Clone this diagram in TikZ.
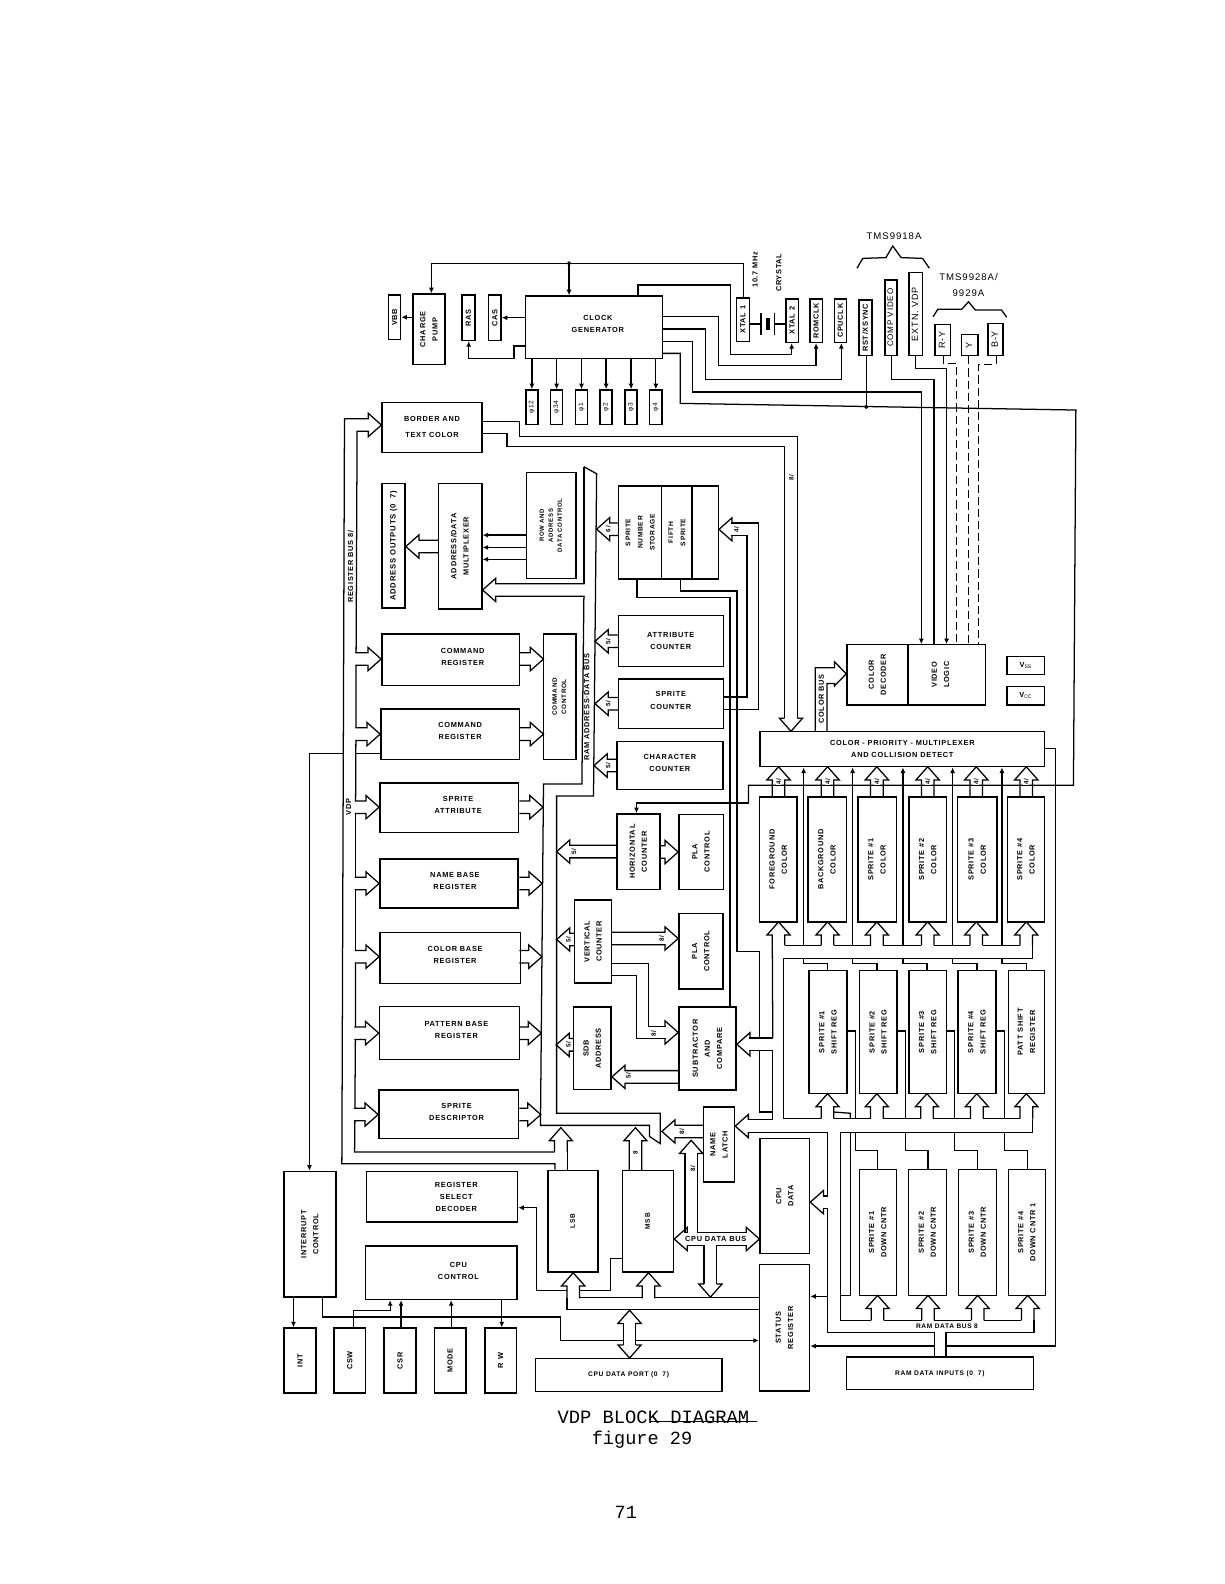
\documentclass[tikz,border=0pt]{standalone}
\usepackage{fontspec}
\setmainfont{Liberation Sans}[LetterSpace=10]
\newfontfamily\typew{Liberation Mono}
\usetikzlibrary{arrows.meta}
\newcommand\fa{\fontsize{7.3}{12}\selectfont\bfseries}
\newcommand\fb{\fontsize{9}{12}\selectfont}
\newcommand\rt[1]{\rotatebox{90}{\begin{tabular}{@{}c@{}}#1\end{tabular}}}
\newcommand\hz[1]{\begin{tabular}{@{}c@{}}#1\end{tabular}}
\tikzset{
 bx/.style={draw=black,line width=1.4pt,inner sep=0pt,fill=none},
 txt/.style={inner sep=0pt,font=\fa},
 w/.style={line width=1.25pt,draw=black,line join=miter},
 wa/.style={w,-{Latex[length=5.5pt,width=5pt]}},
 wd/.style={line width=1.1pt,draw=black,dash pattern=on 8pt off 4pt},
 lab/.style={inner sep=0pt,font=\fontsize{6.2}{7}\selectfont\bfseries},
}
% box: [text opts]{name}{x1}{y1}{x2}{y2}{text}
\newcommand\bx[7][]{%
 \node[bx,minimum width={((#5)-(#3))*1pt},minimum height={((#6)-(#4))*1pt}] (#2) at ({((#3)+(#5))/2},{((#4)+(#6))/2}) {};
 \node[txt,#1] (#2t) at (#2) {#7};}
\newcount\labn
\newcommand\lb[5][lab]{\global\advance\labn by 1 \node[#1,rotate=#4] (lab\the\labn) at (#2,#3) {#5};}
% block arrow: [opts]{tip}{angle}{length}
\def\bah{13}\def\bab{11.5}\def\bas{6.2}
\newcommand\barrow[4][]{\draw[w,#1,shift={(#2)},rotate=#3] ({-(#4)},\bas)--(-\bah,\bas)--(-\bah,\bab)--(0,0)--(-\bah,-\bab)--(-\bah,-\bas)--({-(#4)},-\bas);}
\begin{document}
\begin{tikzpicture}[x=1pt,y=-1pt]
\useasboundingbox (0,0) rectangle (1212,1568);
% ---- top row
\bx{vbb}{384.7}{292}{396.5}{336}{\rt{VBB}}
\bx{cp}{408.8}{291}{440.6}{361}{\rt{CHARGE\\PUMP}}
\bx{ras}{457.4}{292}{470}{337}{\rt{RAS}}
\bx{cas}{483.8}{292}{496}{337}{\rt{CAS}}
\bx[xshift=4pt,yshift=3pt]{clock}{520}{293}{655.6}{355}{\hz{CLOCK\\GENERATOR}}
\bx{xa}{729}{295}{742}{338}{\rt{XTAL 1}}
\bx{xb}{778}{296}{790.5}{339}{\rt{XTAL 2}}
\bx{rom}{802}{296}{814}{339}{\rt{ROMCLK}}
\bx{cpuclk}{826}{296}{838}{339}{\rt{CPUCLK}}
\bx{rst}{850.5}{297}{863}{352}{\rt{RST/XSYNC}}
\bx[font=\fontsize{8}{10}\selectfont]{comp}{876}{277}{888}{352}{\rt{COMP VIDEO}}
\bx[font=\fb]{extn}{900}{270}{913}{352}{\rt{EXTN. VDP}}
\bx[font=\fb]{ry}{925.5}{321}{941}{352}{\rt{R-Y}}
\bx[font=\fb]{yy}{952}{331}{968}{352}{\rt{Y}}
\bx[font=\fb]{by}{978}{320}{993}{352}{\rt{B-Y}}
\foreach \nn/\xc/\pl in {pa/526.5/φ12,pb/551/φ34,pc/575.6/φ1,pd/600/φ2,pe/624.7/φ3,pf/649.2/φ4}{
 \bx[font=\fontsize{6.5}{8}\selectfont]{\nn}{\xc-6}{386}{\xc+6}{420}{\rt{\pl}}
 \draw[wa] (clock.south -| \nn.north) -- (\nn.north);
}
\lb[txt]{747.4}{267}{90}{10.7 MHz}
\lb[txt]{771}{270}{90}{CRYSTAL}
\node[txt,font=\fontsize{9.5}{11}\selectfont] (t18) at (885,234) {TMS9918A};
\node[txt,font=\fontsize{9.5}{11}\selectfont] (t28a) at (958.7,274.6) {TMS9928A/};
\node[txt,font=\fontsize{9.5}{11}\selectfont] (t29) at (958.7,290.4) {9929A};
\draw[w] (848.3,265.6)--(854,255.8)--(877,255)--(883.7,243.5)--(892,255)--(913.3,255.8)--(920,265.6);
\draw[w] (923.7,313.5)--(928.3,306.2)--(952,306.2)--(958.7,298.7)--(965.5,306.9)--(991.4,306.9)--(996.5,314);
% top wires
\draw[wa] (xa.north -| 736,0) -- (736,260.7) -- (427,260.7) -- (cp.north -| 427,0);
\draw[wa] (563.3,260.7) -- (clock.north -| 563.3,0);
\draw[w,fill=black] (563.3,260.7) circle (1.3pt);
\draw[wa] (clock.north -| 631.5,0) -- (631.5,282) -- (723.3,282) -- (723.3,350.8) -- (783.7,350.8) -- (xb.south -| 783.7,0);
\draw[wa] (clock.east |- 0,313.5) -- (711,313.5) -- (711,362) -- (807.8,362) -- (rom.south -| 807.8,0);
\draw[wa] (clock.east |- 0,325.7) -- (698.3,325.7) -- (698.3,375.5) -- (832.8,375.5) -- (cpuclk.south -| 832.8,0);
\draw[wa] (cp.west |- 0,314) -- (vbb.east |- 0,314);
\draw[wa] (clock.west |- 0,314.5) -- (cas.east |- 0,314.5);
\draw[wa] (clock.west |- 0,342.5) -- (508.8,342.5) -- (508.8,354.8) -- (464,354.8) -- (ras.south -| 464,0);
% crystal
\draw[w] (xa.east |- 0,320.8) -- (753.2,320.8);
\draw[w] (753.2,309.6) -- (753.2,331.7);
\draw[w] (766.4,309.6) -- (766.4,331.7);
\draw[w] (766.4,320.8) -- (xb.west |- 0,320.8);
\fill (758.5,315.2) rectangle (762.4,326.8);
% video
\bx{cdec}{838.4}{637.7}{898.8}{698}{\rt{COLOR\\DECODER}}
\bx[xshift=-6pt]{vlog}{898.8}{637.7}{975.4}{698}{\rt{VIDEO\\LOGIC}}
\bx{vss}{996.8}{649.6}{1034}{667.7}{V$_{\mathrm{SS}}$}
\bx{vcc}{996.8}{679.3}{1034}{698}{V$_{\mathrm{CC}}$}
\draw[wa] (clock.east |- 0,338) -- (685.6,338) -- (685.6,388) -- (912,388) -- (912,637.7);
\draw[w] (comp.south -| 882.5,0) -- (882.5,376) -- (924.5,376) -- (924.5,637.7);
\draw[wa] (extn.south -| 906.5,0) -- (906.5,364.6) -- (937,364.6) -- (937,637.7);
\draw[wd] (ry.south -| 933.7,0) -- (933.7,359.7) -- (947,359.7) -- (947,637.7);
\draw[wd] (yy.south -| 959,0) -- (959,637.7);
\draw[wd] (by.south -| 986,0) -- (986,361) -- (969,361) -- (969,637.7);
\draw[w] (rst.south -| 857.4,0) -- (857.4,402.8);
\draw[w,fill=black] (857.4,402.8) circle (1.3pt);
\draw[w] (clock.east |- 0,349.8) -- (673.3,349.8) -- (673.3,399.3) -- (1065,405.9) -- (1062.6,777.3) -- (741,777.3) -- (741,795);
% color priority
\bx{prio}{752.5}{723.9}{1034}{759}{\hz{COLOR - PRIORITY - MULTIPLEXER\\AND COLLISION DETECT}}
\draw[w] (807,723.9)--(807,661)--(826,661)--(826,655)--(cdec.west |- 0,667)--(826,679)--(826,676.6)--(818.6,676.6)--(818.6,723.9);
\lb[txt]{813}{692}{90}{COLOR BUS}
% border
\bx{border}{378.3}{398.3}{477}{448}{\hz{BORDER AND\\[4pt]TEXT COLOR}}
\draw[w] (border.east |- 0,417) -- (514,417) -- (514,432.3) -- (789.2,432.3) -- (789.2,711);
\draw[w] (border.east |- 0,429) -- (502,429) -- (502,442) -- (776.8,442) -- (776.8,711);
\barrow{783,723.9}{-90}{13}
\lb{783.5}{473}{90}{8/}
\barrow{border.west |- 0,420.7}{0}{13}
\draw[w] (365.3,426.9) -- (353.5,426.9) -- (352.5,646.2);
\lb[txt]{347}{561}{90}{REGISTER BUS 8/}
\lb[txt]{345}{799}{90}{VDP}
% address
\bx[font=\fontsize{7.6}{10}\selectfont\bfseries]{aout}{378.3}{478.5}{401}{602}{\rt{ADDRESS OUTPUTS (0 \,\,7)}}
\bx{amux}{433.8}{478.5}{477}{603}{\rt{ADDRESS/DATA\\MULTIPLEXER}}
\bx[font=\fontsize{6}{9}\selectfont\bfseries]{row}{521}{467.6}{570}{572.6}{\rt{ROW AND\\ADDRESS\\DATA CONTROL}}
\draw[wa] (row.west |- 0,529.7) -- (amux.east |- 0,529.7);
\draw[wa] (row.west |- 0,541.9) -- (amux.east |- 0,541.9);
\draw[wa] (row.west |- 0,553.7) -- (amux.east |- 0,553.7);
\barrow{aout.east |- 0,541}{180}{32.8}
\barrow{amux.east |- 0,584}{180}{101}
% registers
\bx[xshift=12pt,yshift=3pt]{ca}{378}{627.7}{514}{678.3}{\hz{COMMAND\\REGISTER}}
\bx[xshift=10pt,yshift=3pt]{cb}{377}{702}{514}{752}{\hz{COMMAND\\REGISTER}}
\bx[xshift=9pt,yshift=3pt]{sa}{376}{775}{513}{824}{\hz{SPRITE\\ATTRIBUTE}}
\bx[xshift=6pt,yshift=3pt]{nb}{376}{850.5}{512.6}{899}{\hz{NAME BASE\\REGISTER}}
\bx[xshift=5pt,yshift=3pt]{cl}{376}{923}{515}{973.5}{\hz{COLOR BASE\\REGISTER}}
\bx[xshift=7pt,yshift=3pt]{pb}{375.6}{996.5}{514}{1048.5}{\hz{PATTERN BASE\\REGISTER}}
\bx[xshift=8pt,yshift=2pt]{sd}{375}{1079}{513}{1127}{\hz{SPRITE\\DESCRIPTOR}}
\bx[font=\fontsize{6.3}{9}\selectfont\bfseries]{cc}{538}{627.7}{570}{752}{\rt{COMMAND\\CONTROL}}
\foreach \nn/\yc/\lx/\tx in {ca/652.4/25.5/538,cb/726.7/24.5/538,sa/799/24/537.5,nb/874.5/24/536.7,cl/947/24/536.5,pb/1022.7/24/535.8,sd/1103.3/24/535.3}{
 \barrow{\nn.west |- 0,\yc}{0}{\lx}
 \barrow{\tx,\yc}{0}{\tx-514}
}
\draw[w] (352.5,658.6)--(352.3,720.5);
\draw[w] (352.3,732.9)--(352,792.8);
\draw[w] (352,805.2)--(352,868.3);
\draw[w] (352,880.7)--(352,940.8);
\draw[w] (352,953.2)--(351.8,1016.5);
\draw[w] (351.8,1028.9)--(351.3,1097.1);
\draw[w] (351.3,1109.5)--(351,1140.4)--(549,1140.4);
\draw[w] (cb.west |- 0,746) -- (352.3,746);
% RAM bus
\draw[w] (578,462)--(590.6,469)--(587.5,788)--(551,788)--(551,1102)--(653.5,1102)--(653.5,1132)--(643,1125)--(643,1114)--(535,1114)--(538,776)--(576,776)--(578,590.2);
\draw[w] (578,462)--(578,577.8);
\lb[txt]{581}{700}{90}{RAM ADDRESS·DATA BUS}
% counters
\bx[font=\fontsize{6.6}{12}\selectfont\bfseries]{sns}{612.4}{481}{655}{573}{\rt{SPRITE\\NUMBER\\STORAGE}}
\bx[font=\fontsize{6.6}{12}\selectfont\bfseries]{fif}{655}{481}{685}{573}{\rt{FIFTH\\SPRITE}}
\bx{fifb}{685}{481}{711}{573}{}
\bx{ac}{612}{609}{716}{659.5}{\hz{ATTRIBUTE\\COUNTER}}
\bx[yshift=3pt]{sc}{612}{672}{716}{721}{\hz{SPRITE\\COUNTER}}
\bx[yshift=2pt]{chc}{610.6}{733.8}{715.5}{781.5}{\hz{CHARACTER\\COUNTER}}
\bx{hc}{610.6}{805.6}{653.5}{880.5}{\rt{HORIZONTAL\\COUNTER}}
\bx{pla}{672}{806}{716}{880.5}{\rt{PLA\\CONTROL}}
\bx{vc}{568.7}{891}{605.6}{973}{\rt{VERTICAL\\COUNTER}}
\bx{plb}{672}{904.5}{715.5}{979}{\rt{PLA\\CONTROL}}
\bx{sdb}{567.7}{997}{605}{1078.5}{\rt{SDB\\ADDRESS}}
\bx{sub}{672}{997}{728.7}{1079}{\rt{SUBTRACTOR\\AND\\COMPARE}}
\barrow{590.6,523.8}{180}{22}\lb{602}{523.8}{90}{6/}
\barrow{589,634.8}{180}{23}\lb{602}{634.8}{90}{5/}
\barrow{589,696.6}{180}{23}\lb{602}{696.6}{90}{5/}
\barrow{588,757.8}{180}{22.6}\lb{602}{757.8}{90}{5/}
\barrow{551,843}{180}{59.6}\lb{568}{843}{90}{5/}
\barrow{551,930}{180}{17.7}\lb{562.7}{930}{90}{5/}
\barrow{550.5,1034.3}{180}{17.2}\lb{562.7}{1034.3}{90}{5/}
\barrow{sdb.east |- 0,1066}{180}{67}\lb{622}{1065}{90}{5/}
\barrow{pla.west |- 0,843.4}{0}{18.5}
\barrow{plb.west |- 0,929}{0}{66.4}\lb{655}{929}{90}{8/}
\barrow{sub.west |- 0,1022}{0}{13}\lb{647}{1023}{90}{8/}
\draw[w] (vc.east |- 0,953.7) -- (642,953.7) -- (642,1015.8) -- (659,1015.8);
\draw[w] (vc.east |- 0,965.4) -- (630,965.4) -- (630,1028.2) -- (659,1028.2);
\barrow{fifb.east |- 0,524}{180}{13}\lb{729}{524}{90}{4/}
\draw[w] (724,517.8) -- (750.6,517.8) -- (750.6,702) -- (sc.east |- 0,702);
\draw[w] (724,530.2) -- (739.4,530.2) -- (739.4,690) -- (sc.east |- 0,690);
\draw[w] (630.6,573) -- (630.6,591.7) -- (722.5,591.7) -- (sub.north -| 722.5,0);
\draw[w] (673.3,573) -- (673.3,585) -- (729.5,585) -- (729.5,942) -- (752,942) -- (752,1027.5);
\draw[wa] (741,795) -- (630,795) -- (hc.north -| 630,0);
\barrow{sub.east |- 0,1033.7}{180}{13}
\draw[w] (741.7,1027.5) -- (765,1027.5);
\draw[w] (741.7,1039.9) -- (765,1039.9) -- (765,1108) -- (740,1108);
\draw[w] (752,1039.9) -- (752,1100.8) -- (765,1100.8);
% colour registers
\bx{fg}{751.9}{789}{788.9}{912.6}{\rt{FOREGROUND\\COLOR}}
\bx{bg}{799.8}{789}{837.7}{912.6}{\rt{BACKGROUND\\COLOR}}
\bx{sca}{849.3}{789}{887.2}{912.6}{\rt{SPRITE \#1\\COLOR}}
\bx{scb}{900}{789}{936.8}{912.6}{\rt{SPRITE \#2\\COLOR}}
\bx{scc}{947.9}{789}{986.9}{912.6}{\rt{SPRITE \#3\\COLOR}}
\bx{scd}{997.4}{789}{1034}{912.6}{\rt{SPRITE \#4\\COLOR}}
\foreach \nn/\xc in {fg/770.7,bg/819.2,sca/868,scb/918.3,scc/966.4,scd/1015.9}{
 \barrow{\xc,759}{90}{30}
 \barrow{\xc,912.6}{90}{23.1}
 \node[lab,rotate=90,fill=white,inner sep=0.5pt] (l\nn) at (\xc,773.5) {4/};
}
\foreach \xc in {795.5,844,893.8,943,991.8}{
 \draw[wa] (\xc,935.7) -- (prio.south -| \xc,0);
}
\draw[w] (776.9,935.7)--(813,935.7);
\draw[w] (825.4,935.7)--(861.8,935.7);
\draw[w] (874.2,935.7)--(912.1,935.7);
\draw[w] (924.5,935.7)--(960.2,935.7);
\draw[w] (972.6,935.7)--(1009.7,935.7);
\draw[w] (764.5,935.7)--(765,1027.5);
\draw[w] (1022.1,935.7)--(1022.1,948.9)--(775.7,948.9)--(775.7,1107.4)--(813,1107.4);
% shift registers
\bx{sra}{801}{960.5}{838.4}{1082.6}{\rt{SPRITE \#1\\SHIFT REG}}
\bx{srb}{850.6}{960.5}{888}{1082.6}{\rt{SPRITE \#2\\SHIFT REG}}
\bx{src}{900}{960.5}{936.8}{1082.6}{\rt{SPRITE \#3\\SHIFT REG}}
\bx{srd}{948.3}{960.5}{986}{1082.6}{\rt{SPRITE \#4\\SHIFT REG}}
\bx{sre}{998.4}{960.5}{1034}{1082.6}{\rt{PATT SHIFT\\REGISTER}}
\foreach \nn/\xc/\xv in {sra/819.2/795.5,srb/868/844,src/917.6/893.8,srd/967/943,sre/1016/991.8}{
 \barrow{\xc,1082.6}{90}{24.8}
 \draw[w] (\xv,948.9) -- (\xv,953.9) -- (\xc,953.9) -- (\nn.north -| \xc,0);
}
\draw[w] (825.4,1107.4)--(861.8,1107.4);
\draw[w] (874.2,1107.4)--(911.4,1107.4);
\draw[w] (923.8,1107.4)--(960.8,1107.4);
\draw[w] (973.2,1107.4)--(1009.8,1107.4);
\draw[w] (825.4,1100.8)--(841.7,1102)--(841.7,1107.4);
\draw[w] (1022.2,1107.4)--(1022.2,1121.3)--(831.8,1121.3)--(831.8,1307)--(862.4,1307);
% down counters
\bx{dca}{850.6}{1157.6}{887.2}{1282.3}{\rt{SPRITE \#1\\DOWN CNTR}}
\bx{dcb}{899.4}{1157.6}{936.7}{1282.3}{\rt{SPRITE \#2\\DOWN CNTR}}
\bx{dcc}{948.9}{1157.6}{986.2}{1282.3}{\rt{SPRITE \#3\\DOWN CNTR}}
\bx{dcd}{998.4}{1157.6}{1034.8}{1282.3}{\rt{SPRITE \#4\\DOWN CNTR 1}}
\foreach \mm/\nn/\xv/\xc in {sra/dca/846.6/868.7,srb/dcb/896.1/918.6,src/dcc/945/967.8,srd/dcd/994.5/1017.3}{
 \draw[w] (\mm.east |- 0,1020.5) -- (\xv,1020.5) -- (\xv,1107.4);
 \draw[w] (\xv,1121.3) -- (\xv,1138.7) -- (\xc,1138.7) -- (\nn.north -| \xc,0);
 \barrow{\xc,1282.3}{90}{24.7}
}
\draw[w] (875,1307)--(912.4,1307);
\draw[w] (924.8,1307)--(961.6,1307);
\draw[w] (974,1307)--(1011.1,1307);
\draw[w] (841.7,1121.3)--(841.7,1282.3)--(831.8,1282.3);
\node[txt,font=\fontsize{6.5}{8}\selectfont\bfseries] (rdb) at (937.4,1312.9) {RAM DATA BUS 8};
% cpu data / status
\bx{cpud}{752.5}{1127.2}{801.4}{1241}{\rt{CPU\\DATA}}
\bx{stat}{751.9}{1251.6}{801.4}{1377}{\rt{STATUS\\REGISTER}}
\bx[font=\fontsize{6.6}{9}\selectfont\bfseries]{rami}{837.7}{1343.4}{1023}{1375.7}{RAM DATA INPUTS (0 \,\,7)}
\barrow{cpud.east |- 0,1190}{180}{13}
\draw[w] (814.4,1183.8)--(819.2,1183.8)--(819.2,1121.3)--(740,1121.3);
\draw[w] (814.4,1196.2)--(819.2,1196.2)--(819.2,1319.3)--(925.2,1319.3)--(925.2,1343.4);
\draw[w] (936.4,1343.4)--(936.4,1319.3)--(1023.5,1319.3)--(1023.5,1307);
\draw[wa] (819.2,1283.3)--(stat.east |- 0,1283.3);
\draw[w] (prio.east |- 0,741)--(1044.7,741)--(1044.7,1332.5)--(936.4,1332.5);
\draw[wa] (925.2,1332.5)--(stat.east |- 0,1332.5);
% name latch, lsb, msb
\bx{latch}{696.4}{1095.8}{727.1}{1170.1}{\rt{NAME\\LATCH}}
\bx[font=\fontsize{6.5}{9}\selectfont\bfseries]{lsb}{542.6}{1158.5}{591.8}{1259.2}{\rt{LSB}}
\bx[font=\fontsize{6.5}{9}\selectfont\bfseries]{msb}{616.2}{1158.5}{666.7}{1259.2}{\rt{MSB}}
\draw[w] (365.3,414.5) -- (341,414.5) -- (338.4,1152) -- (549.5,1152) -- (lsb.north -| 549.5,0);
\barrow{latch.east |- 0,1114.7}{180}{13}
\barrow{655.2,1120}{180}{41.2}\lb{675}{1120}{90}{8/}
\barrow{555.2,1116.3}{90}{24.1}
\draw[w] (561.4,1140.4)--(lsb.north -| 561.4,0);
\barrow{629,1116.3}{90}{42.2}\lb{629}{1141}{90}{8}
\barrow{lsb.south -| 567.4,0}{90}{25.4}
\barrow{msb.south -| 642,0}{90}{25.4}
\draw[w] (561.2,1284.6)--(561.2,1296.2)--(stat.west |- 0,1296.2);
\draw[w] (573.6,1284.6)--(635.8,1284.6);
\draw[w] (648.2,1284.6)--(stat.west |- 0,1284.6);
\bx[xshift=14pt]{rsd}{363}{1159.5}{512.3}{1209.7}{\hz{REGISTER\\SELECT\\DECODER}}
\draw[wa] (530.8,1277.4)--(530.8,1195.5)--(rsd.east |- 0,1195.5);
\draw[w] (530.8,1277.4)--(561.2,1277.4);
\draw[w] (573.6,1277.4)--(604,1277.4)--(604,1246)--(msb.west |- 0,1246);
% cpu data bus
\barrow{msb.east |- 0,1226.5}{180}{13}
\barrow{cpud.west |- 0,1226.5}{0}{13}
\barrow{684.2,1128.8}{90}{13}
\barrow{703.2,1284}{-90}{13}
\draw[w] (679.7,1220.3)--(678,1220.3)--(678,1141.8);
\draw[w] (690.4,1141.8)--(690.4,1220.3)--(739,1220.3);
\draw[w] (679.7,1232.7)--(697,1232.7)--(697,1271);
\draw[w] (709.4,1271)--(709.4,1232.7)--(739,1232.7);
\node[txt] (cdb) at (708.5,1226.5) {CPU DATA BUS};
\lb{686}{1156.5}{90}{8/}
% lower left
\bx{intc}{281.2}{1159.5}{332.4}{1284}{\rt{INTERRUPT\\CONTROL}}
\bx[xshift=17pt,yshift=2pt]{cpuc}{362}{1233.5}{511.6}{1286.3}{\hz{CPU\\CONTROL}}
\bx{intp}{281.2}{1314.6}{312.9}{1379}{\rt{INT}}
\bx{csw}{330.7}{1314.6}{362}{1379}{\rt{CSW}}
\bx{csr}{380.2}{1314.6}{411.9}{1379}{\rt{CSR}}
\bx{mode}{430}{1314.6}{461.4}{1379}{\rt{MODE}}
\bx{rwp}{480.2}{1314.6}{511}{1379}{\rt{R W}}
\bx[font=\fontsize{6.6}{9}\selectfont\bfseries]{port}{529.8}{1345}{714.6}{1377.4}{CPU DATA PORT (0 \,\,7)}
\draw[wa] (340,746) -- (306.3,746) -- (intc.north -| 306.3,0);
\draw[wa] (intc.south -| 290.5,0)--(intp.north -| 290.5,0);
\draw[w] (intc.south -| 319.2,0)--(319.2,1303.8)--(554.5,1303.8)--(554.5,1327)--(617,1327);
\draw[wa] (629.4,1327)--(stat.west |- 0,1327);
\draw[wa] (csw.north -| 349.9,0)--(349.9,1297.1)--(386.2,1297.1)--(cpuc.south -| 386.2,0);
\draw[wa] (csr.north -| 397,0)--(cpuc.south -| 397,0);
\draw[wa] (mode.north -| 446.6,0)--(cpuc.south -| 446.6,0);
\draw[wa] (cpuc.south -| 496.7,0)--(rwp.north -| 496.7,0);
\barrow{623.2,1297}{90}{13}
\barrow{port.north -| 623.2,0}{-90}{13}
\draw[w] (617,1310)--(617,1331.4);
\draw[w] (629.4,1310)--(629.4,1331.4);
% caption
\node[inner sep=0pt,font=\typew\fontsize{18.6}{20}\selectfont] (cap) at (646.8,1402.8) {VDP BLOCK DIAGRAM};
\node[inner sep=0pt,font=\typew\fontsize{18.4}{20}\selectfont] (fig) at (635.5,1425) {figure 29};
\node[inner sep=0pt,font=\typew\fontsize{18.4}{20}\selectfont] (pg) at (619.5,1497) {71};
\draw[line width=0.8pt] (643.6,1407.3) -- (749,1407.3);
\end{tikzpicture}
\end{document}
